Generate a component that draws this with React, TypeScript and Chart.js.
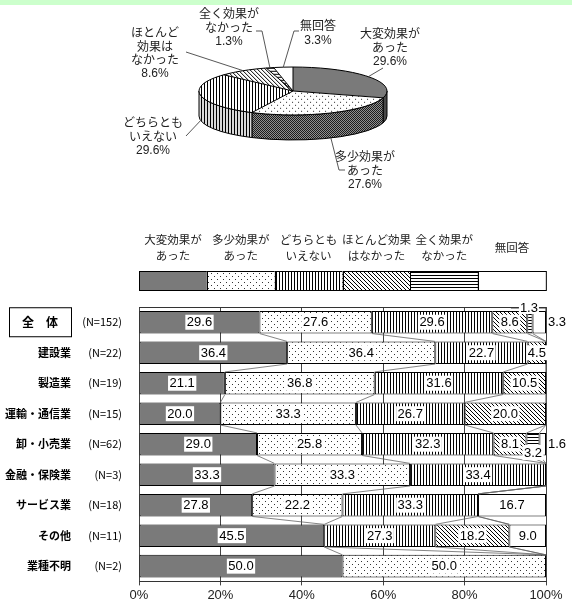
import React, { useEffect, useRef } from "react";
import { Chart, registerables } from "chart.js";

Chart.register(...registerables);

// ---------- data ----------
const legendLabels = [
  ["大変効果が", "あった"],
  ["多少効果が", "あった"],
  ["どちらとも", "いえない"],
  ["ほとんど効果", "はなかった"],
  ["全く効果が", "なかった"],
  ["無回答"],
];
const pieLabelLines = [
  ["大変効果が", "あった"],
  ["多少効果が", "あった"],
  ["どちらとも", "いえない"],
  ["ほとんど", "効果は", "なかった"],
  ["全く効果が", "なかった"],
  ["無回答"],
];
const pieValues = [29.6, 27.6, 29.6, 8.6, 1.3, 3.3];

const categories = ["全　体", "建設業", "製造業", "運輸・通信業", "卸・小売業", "金融・保険業", "サービス業", "その他", "業種不明"];
const sampleSizes = ["(N=152)", "(N=22)", "(N=19)", "(N=15)", "(N=62)", "(N=3)", "(N=18)", "(N=11)", "(N=2)"];

const veryEffective = [29.6, 36.4, 21.1, 20.0, 29.0, 33.3, 27.8, 45.5, 50.0];
const somewhatEffective = [27.6, 36.4, 36.8, 33.3, 25.8, 33.3, 22.2, 0, 50.0];
const neutral = [29.6, 22.7, 31.6, 26.7, 32.3, 33.4, 33.3, 27.3, 0];
const hardlyEffective = [8.6, 4.5, 10.5, 20.0, 8.1, 0, 0, 18.2, 0];
const notEffective = [1.3, 0, 0, 0, 3.2, 0, 0, 0, 0];
const noAnswer = [3.3, 0, 0, 0, 1.6, 0, 16.7, 9.0, 0];
const seriesValues = [veryEffective, somewhatEffective, neutral, hardlyEffective, notEffective, noAnswer];

const xTicks = [0, 20, 40, 60, 80, 100];

// ---------- styles / layout ----------
const NUMFONT = '"Liberation Sans", "Noto Sans CJK JP", sans-serif';
const JFONT = '"Noto Sans CJK JP", sans-serif';
const K = 0.255; // pie flattening
const DEPTH = 25; // pie thickness
const pieLabelLayout = [
  { x: 390, y: 35, path: [[383, 68]] },
  { x: 365, y: 158, path: [[339, 170], [345, 170]] },
  { x: 153, y: 124, path: [[186, 136]] },
  { x: 155, y: 34, path: [[186, 52]] },
  { x: 229, y: 15, path: [[262, 31], [256, 31]] },
  { x: 318, y: 27, path: [[294, 31], [299, 31]] },
];

type Fill = string | CanvasPattern;

function makeFill(kind: string): Fill {
  const c = document.createElement("canvas");
  const g = c.getContext("2d")!;
  const bg = (w: number, h: number, col = "#fff") => {
    c.width = w;
    c.height = h;
    g.fillStyle = col;
    g.fillRect(0, 0, w, h);
  };
  switch (kind) {
    case "gray":
      return "#7a7a7a";
    case "darkgray":
      return "#555555";
    case "white":
      return "#ffffff";
    case "dots":
      bg(6, 6);
      g.fillStyle = "#333";
      g.fillRect(1, 1, 1, 1);
      g.fillRect(4, 4, 1, 1);
      break;
    case "checker":
      bg(2, 2, "#aaa");
      g.fillStyle = "#222";
      g.fillRect(0, 0, 1, 1);
      g.fillRect(1, 1, 1, 1);
      break;
    case "vert":
      bg(3, 1);
      g.fillStyle = "#000";
      g.fillRect(0, 0, 1, 1);
      break;
    case "diag":
      bg(4, 4);
      g.fillStyle = "#000";
      for (let i = 0; i < 4; i++) g.fillRect(i, i, 1, 1);
      break;
    case "horiz":
      bg(1, 3);
      g.fillStyle = "#000";
      g.fillRect(0, 0, 1, 1);
      break;
  }
  return g.createPattern(c, "repeat")!;
}

const topKinds = ["gray", "dots", "vert", "diag", "horiz", "white"];
const sideKinds = ["darkgray", "checker", "vert", "diag", "horiz", "white"];

function pie3dPlugin(sideFills: Fill[]) {
  let cx = 0, cy = 0, r = 0;
  return {
    id: "pie3d",
    beforeDatasetsDraw(chart: any) {
      const ctx: CanvasRenderingContext2D = chart.ctx;
      const els: any[] = chart.getDatasetMeta(0).data;
      if (!els.length) return;
      cx = els[0].x;
      cy = els[0].y;
      r = els[0].outerRadius;
      els.forEach((el, i) => {
        for (const off of [-2 * Math.PI, 0, 2 * Math.PI]) {
          const a = Math.max(el.startAngle + off, 0);
          const b = Math.min(el.endAngle + off, Math.PI);
          if (b <= a) continue;
          ctx.beginPath();
          ctx.ellipse(cx, cy, r, r * K, 0, a, b);
          ctx.lineTo(cx + r * Math.cos(b), cy + r * K * Math.sin(b) + DEPTH);
          ctx.ellipse(cx, cy + DEPTH, r, r * K, 0, b, a, true);
          ctx.closePath();
          ctx.fillStyle = sideFills[i] as any;
          ctx.fill();
          ctx.fillStyle = "rgba(0,0,0,0.15)";
          ctx.fill();
          ctx.strokeStyle = "#000";
          ctx.lineWidth = 1;
          ctx.stroke();
        }
      });
      ctx.save();
      ctx.translate(cx, cy);
      ctx.scale(1, K);
      ctx.translate(-cx, -cy);
    },
    afterDatasetsDraw(chart: any) {
      const ctx: CanvasRenderingContext2D = chart.ctx;
      ctx.restore();
      const els: any[] = chart.getDatasetMeta(0).data;
      if (!els.length) return;
      ctx.save();
      ctx.strokeStyle = "#000";
      ctx.lineWidth = 1;
      ctx.beginPath();
      ctx.ellipse(cx, cy, r, r * K, 0, 0, 2 * Math.PI);
      ctx.stroke();
      ctx.beginPath();
      els.forEach((el) => {
        ctx.moveTo(cx, cy);
        ctx.lineTo(cx + r * Math.cos(el.startAngle), cy + r * K * Math.sin(el.startAngle));
      });
      ctx.stroke();
      // labels + leader lines
      const vals = chart.data.datasets[0].data as number[];
      ctx.strokeStyle = "#444";
      ctx.lineWidth = 0.9;
      els.forEach((el, i) => {
        const m = (el.startAngle + el.endAngle) / 2;
        const s = Math.sin(m);
        let ax = cx + r * Math.cos(m);
        let ay = cy + r * K * s;
        if (s > 0.05) ay += DEPTH;
        const lay = pieLabelLayout[i];
        ctx.beginPath();
        ctx.moveTo(ax, ay);
        lay.path.forEach((p) => ctx.lineTo(p[0], p[1]));
        ctx.stroke();
        const lines = [...pieLabelLines[i], vals[i].toFixed(1) + "%"];
        ctx.fillStyle = "#222";
        ctx.textAlign = "center";
        ctx.textBaseline = "middle";
        ctx.font = `12px ${NUMFONT}`;
        lines.forEach((t, k) => ctx.fillText(t, lay.x, lay.y + k * 13.3));
      });
      ctx.restore();
    },
  };
}

const barExtras = {
  id: "barExtras",
  beforeDatasetsDraw(chart: any) {
    const ctx: CanvasRenderingContext2D = chart.ctx;
    const a = chart.chartArea;
    ctx.save();
    ctx.strokeStyle = "#333";
    ctx.lineWidth = 1;
    ctx.beginPath();
    ctx.moveTo(a.left, Math.round(a.top) + 0.5);
    ctx.lineTo(a.right, Math.round(a.top) + 0.5);
    ctx.stroke();
    ctx.restore();
  },
  afterDatasetsDraw(chart: any) {
    const ctx: CanvasRenderingContext2D = chart.ctx;
    const xs = chart.scales.x;
    const ys = chart.scales.y;
    const dsets = chart.data.datasets;
    const n = chart.data.labels.length;
    ctx.save();
    // series lines between bars
    ctx.strokeStyle = "#666";
    ctx.lineWidth = 0.8;
    const base0 = chart.getDatasetMeta(0).data;
    for (let j = 0; j < n - 1; j++) {
      const e1 = base0[j].getProps(["y", "height"], true);
      const e2 = base0[j + 1].getProps(["y", "height"], true);
      let c1 = 0, c2 = 0;
      for (let k = 0; k < dsets.length - 1; k++) {
        c1 += dsets[k].data[j];
        c2 += dsets[k].data[j + 1];
        ctx.beginPath();
        ctx.moveTo(xs.getPixelForValue(c1), e1.y + e1.height / 2);
        ctx.lineTo(xs.getPixelForValue(c2), e2.y - e2.height / 2);
        ctx.stroke();
      }
    }
    // value labels
    ctx.font = `13px ${NUMFONT}`;
    ctx.textBaseline = "middle";
    dsets.forEach((ds: any, i: number) => {
      chart.getDatasetMeta(i).data.forEach((el: any, j: number) => {
        const v = ds.data[j];
        if (!v) return;
        const p = el.getProps(["x", "y", "base", "height"], true);
        const left = Math.min(p.x, p.base);
        const right = Math.max(p.x, p.base);
        let tx = (left + right) / 2;
        let ty = p.y;
        let boxed = i < dsets.length - 1;
        let align: CanvasTextAlign = "center";
        let bracket = false;
        if (v < 4) {
          if (i === dsets.length - 1) {
            tx = right + 2;
            align = "left";
            boxed = false;
          } else if (j === 0) {
            ty = p.y - p.height / 2 - 3;
            tx = (left + right) / 2 - 1;
            bracket = true;
            boxed = false;
          } else {
            ty = p.y + p.height / 2 - 3;
          }
        }
        const txt = v.toFixed(1);
        const w = ctx.measureText(txt).width;
        const x0 = align === "center" ? tx - w / 2 : tx;
        if (boxed) {
          ctx.fillStyle = "#fff";
          ctx.fillRect(x0 - 1.5, ty - 7.5, w + 3, 15);
        }
        if (bracket) {
          ctx.fillStyle = "#fff";
          ctx.fillRect(x0 - 1, ty - 6, w + 2, 12);
          ctx.strokeStyle = "#333";
          ctx.lineWidth = 1;
          ctx.beginPath();
          ctx.moveTo(x0 - 9, ty);
          ctx.lineTo(x0 - 1, ty);
          ctx.moveTo(x0 + w + 1, ty);
          ctx.lineTo(x0 + w + 8, ty);
          ctx.lineTo(x0 + w + 8, ty + 4);
          ctx.stroke();
        }
        ctx.fillStyle = "#000";
        ctx.textAlign = align;
        ctx.fillText(txt, tx, ty + 0.5);
      });
    });
    // category labels
    ctx.textBaseline = "middle";
    chart.data.labels.forEach((lab: string, j: number) => {
      const y = ys.getPixelForValue(j);
      ctx.fillStyle = "#000";
      if (j === 0) {
        ctx.strokeStyle = "#000";
        ctx.lineWidth = 1;
        ctx.strokeRect(9.5, y - 14.5, 62, 29);
        ctx.font = `bold 12px ${JFONT}`;
        ctx.textAlign = "center";
        ctx.fillText(lab, 40, y);
      } else {
        ctx.font = `bold 11px ${JFONT}`;
        ctx.textAlign = "right";
        ctx.fillText(lab, 71, y);
      }
      ctx.font = `11px ${JFONT}`;
      ctx.textAlign = "right";
      ctx.fillText(sampleSizes[j], 122, y);
    });
    // legend box
    const a = chart.chartArea;
    const segW = (a.right - a.left) / dsets.length;
    const ly = a.top - 36;
    const lh = 19;
    dsets.forEach((ds: any, i: number) => {
      const x = a.left + i * segW;
      ctx.fillStyle = ds.backgroundColor;
      ctx.fillRect(x, ly, segW, lh);
      ctx.strokeStyle = "#000";
      ctx.lineWidth = 1;
      ctx.strokeRect(Math.round(x) + 0.5, ly + 0.5, segW, lh);
      const lines = legendLabels[i];
      ctx.fillStyle = "#222";
      ctx.font = `11.5px ${JFONT}`;
      ctx.textAlign = "center";
      const cxm = x + segW / 2;
      if (lines.length === 1) ctx.fillText(lines[0], cxm, ly - 23);
      else lines.forEach((t, k) => ctx.fillText(t, cxm, ly - 31 + k * 16));
    });
    ctx.restore();
  },
};

export default function App() {
  const pieRef = useRef<HTMLCanvasElement>(null);
  const barRef = useRef<HTMLCanvasElement>(null);

  useEffect(() => {
    const topFills = topKinds.map((k) => {
      const f = makeFill(k);
      if (typeof f !== "string") f.setTransform(new DOMMatrix([1, 0, 0, 1 / K, 0, 0]));
      return f;
    });
    const sideFills = sideKinds.map(makeFill);
    const pie = new Chart(pieRef.current!, {
      type: "pie",
      data: {
        labels: pieLabelLines.map((l) => l.join("")),
        datasets: [{ data: pieValues, backgroundColor: topFills as any, borderWidth: 0 }],
      },
      options: {
        responsive: false,
        animation: false,
        events: [],
        radius: 94,
        layout: { padding: { left: 14, right: 0, top: 0, bottom: 18 } },
        plugins: { legend: { display: false }, tooltip: { enabled: false } },
      } as any,
      plugins: [pie3dPlugin(sideFills) as any],
    });

    const barFills = topKinds.map(makeFill);
    const bar = new Chart(barRef.current!, {
      type: "bar",
      data: {
        labels: categories,
        datasets: seriesValues.map((d, i) => ({
          label: legendLabels[i].join(""),
          data: d,
          backgroundColor: barFills[i] as any,
          borderColor: "#000",
          borderWidth: 1,
          borderSkipped: false,
          barPercentage: 0.74,
          categoryPercentage: 1,
        })),
      },
      options: {
        indexAxis: "y",
        responsive: false,
        animation: false,
        events: [],
        layout: { padding: { left: 139, right: 26, top: 107, bottom: 0 } },
        scales: {
          x: {
            stacked: true,
            min: 0,
            max: 100,
            afterBuildTicks: (axis: any) => {
              axis.ticks = xTicks.map((v) => ({ value: v }));
            },
            ticks: {
              callback: (v: any) => v + "%",
              color: "#222",
              font: { family: NUMFONT, size: 13 },
              padding: 2,
              maxRotation: 0,
            },
            grid: { color: "#444", lineWidth: 1, tickLength: 4 },
            border: { color: "#333" },
          },
          y: { stacked: true, display: false },
        },
        plugins: { legend: { display: false }, tooltip: { enabled: false } },
      } as any,
      plugins: [barExtras as any],
    });
    return () => {
      pie.destroy();
      bar.destroy();
    };
  }, []);

  return (
    <div style={{ position: "fixed", left: 0, top: 0, width: 572, height: 601, overflow: "hidden", background: "#fff" }}>
      <div style={{ position: "absolute", left: 0, top: 0, width: 572, height: 5, background: "#ccffcc" }} />
      <canvas ref={pieRef} width={572} height={200} style={{ position: "absolute", left: 0, top: 0 }} />
      <canvas ref={barRef} width={572} height={405} style={{ position: "absolute", left: 0, top: 200 }} />
    </div>
  );
}
